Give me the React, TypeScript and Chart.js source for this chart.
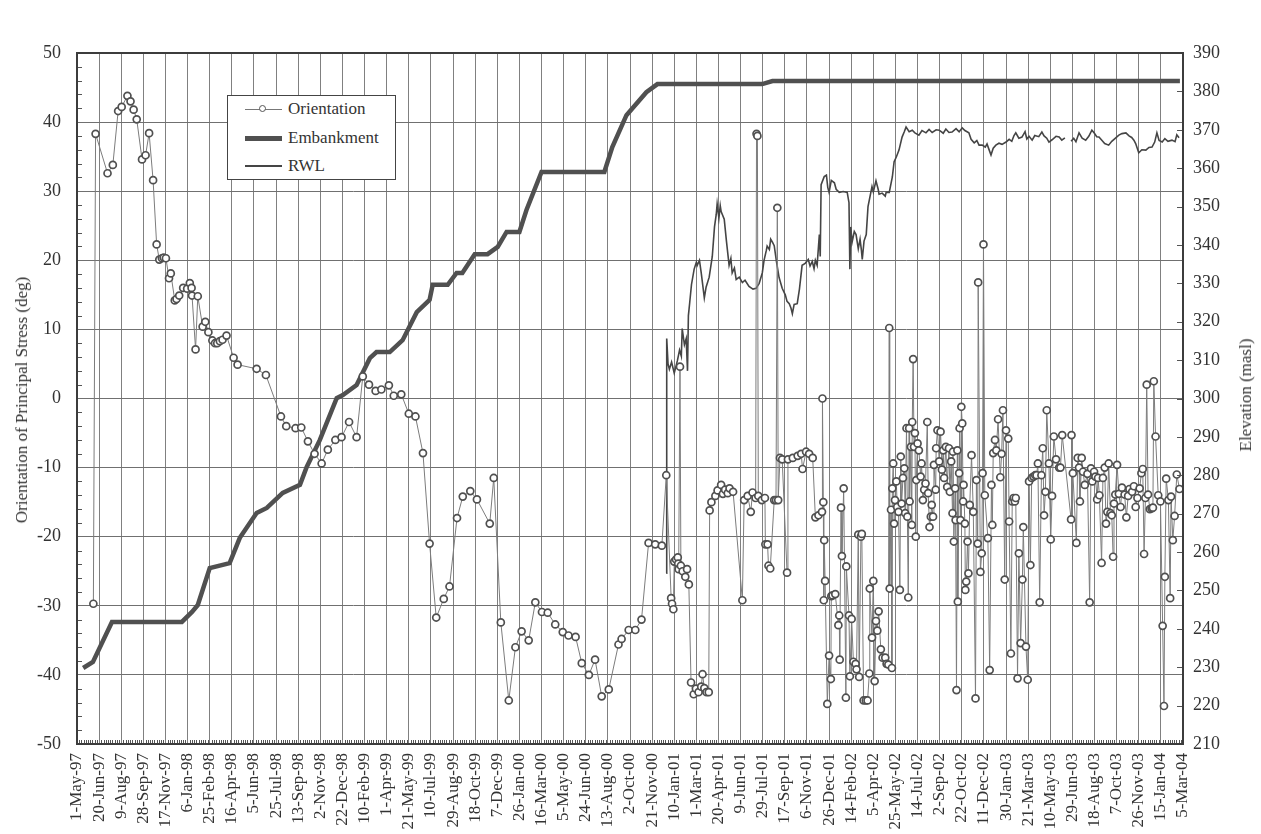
import React, { useEffect, useRef } from 'react';
import { Chart, registerables } from 'chart.js';

Chart.register(...registerables);

// ---------- data ----------
// x values are days counted from 1-May-97
const START_UTC = Date.UTC(1997, 4, 1);
const MONTHS = ['Jan', 'Feb', 'Mar', 'Apr', 'May', 'Jun', 'Jul', 'Aug', 'Sep', 'Oct', 'Nov', 'Dec'];
const X_TICK_STEP_DAYS = 50;
const X_MAX_DAYS = 2500;

const orientationDays = [
  37, 42, 69, 81, 93, 101, 114, 121, 128, 135, 147, 155, 163, 172, 180, 186, 192, 196, 201, 208,
  212, 221, 225, 231, 240, 249, 255, 259, 260, 268, 273, 284, 290, 297, 306, 312, 317, 323, 329, 338,
  354, 363, 406, 427, 461, 473, 494, 507, 522, 537, 553, 567, 584, 598, 615, 632, 646, 660, 675, 688,
  705, 716, 733, 750, 765, 782, 797, 812, 829, 842, 859, 872, 889, 904, 933, 942, 958, 976, 991, 1005,
  1021, 1036, 1051, 1064, 1081, 1098, 1111, 1127, 1141, 1157, 1171, 1186, 1202, 1224, 1231, 1247, 1262, 1276, 1292, 1307,
  1322, 1332, 1343, 1345, 1348, 1350, 1354, 1358, 1359, 1360, 1363, 1365, 1369, 1375, 1379, 1383, 1388, 1394, 1399, 1405,
  1411, 1414, 1418, 1423, 1428, 1430, 1434, 1443, 1448, 1456, 1460, 1465, 1471, 1475, 1483, 1504, 1508, 1516, 1523, 1527,
  1534, 1536, 1538, 1540, 1548, 1555, 1556, 1561, 1563, 1567, 1576, 1580, 1583, 1585, 1589, 1594, 1605, 1607, 1618, 1629,
  1637, 1640, 1648, 1655, 1663, 1669, 1676, 1684, 1685, 1687, 1688, 1689, 1691, 1696, 1700, 1704, 1705, 1708, 1714, 1721,
  1723, 1724, 1727, 1729, 1733, 1738, 1739, 1745, 1747, 1751, 1755, 1760, 1762, 1766, 1768, 1772, 1774, 1778, 1783, 1787,
  1791, 1792, 1797, 1800, 1803, 1806, 1809, 1812, 1817, 1821, 1827, 1830, 1834, 1836, 1837, 1840, 1842, 1843, 1845, 1847,
  1849, 1852, 1854, 1857, 1860, 1862, 1864, 1867, 1870, 1872, 1875, 1877, 1879, 1881, 1882, 1885, 1887, 1888, 1890, 1892,
  1894, 1896, 1897, 1900, 1903, 1907, 1909, 1912, 1915, 1918, 1922, 1924, 1927, 1930, 1932, 1935, 1937, 1941, 1942, 1945,
  1949, 1952, 1955, 1958, 1960, 1964, 1967, 1971, 1973, 1976, 1979, 1980, 1982, 1985, 1986, 1988, 1990, 1991, 1994, 1995,
  1997, 1999, 2001, 2003, 2004, 2007, 2008, 2010, 2013, 2015, 2018, 2022, 2026, 2031, 2033, 2036, 2037, 2042, 2045, 2047,
  2049, 2052, 2059, 2063, 2067, 2069, 2071, 2075, 2078, 2082, 2087, 2090, 2093, 2097, 2100, 2105, 2107, 2111, 2114, 2117,
  2120, 2122, 2126, 2129, 2133, 2137, 2139, 2145, 2149, 2152, 2155, 2158, 2162, 2166, 2169, 2172, 2176, 2180, 2183, 2186,
  2189, 2192, 2197, 2201, 2204, 2208, 2213, 2220, 2223, 2227, 2247, 2248, 2251, 2259, 2262, 2265, 2267, 2271, 2274, 2278,
  2284, 2289, 2292, 2295, 2299, 2302, 2306, 2308, 2311, 2316, 2319, 2323, 2326, 2329, 2332, 2336, 2339, 2342, 2344, 2347,
  2351, 2355, 2359, 2362, 2368, 2372, 2376, 2379, 2385, 2389, 2393, 2397, 2402, 2406, 2409, 2412, 2415, 2418, 2421, 2425,
  2429, 2432, 2434, 2438, 2444, 2449, 2454, 2457, 2459, 2462, 2467, 2471, 2473, 2477, 2481, 2486, 2492,
];

const orientationDeg = [
  -29.7, 38.3, 32.6, 33.8, 41.6, 42.2, 43.8, 43.0, 41.8, 40.4, 34.6, 35.2, 38.4, 31.6, 22.3, 20.1, 20.3, 20.4, 20.3, 17.4,
  18.1, 14.2, 14.4, 14.9, 16.0, 15.9, 16.7, 16.0, 14.9, 7.1, 14.8, 10.4, 11.1, 9.6, 8.4, 8.0, 8.0, 8.3, 8.5, 9.1,
  5.9, 4.9, 4.3, 3.4, -2.6, -4.0, -4.3, -4.2, -6.2, -8.0, -9.4, -7.4, -6.0, -5.6, -3.4, -5.6, 3.2, 2.0, 1.1, 1.3,
  1.9, 0.4, 0.6, -2.2, -2.6, -7.9, -21.0, -31.7, -29.0, -27.2, -17.3, -14.2, -13.4, -14.6, -18.1, -11.5, -32.4, -43.7, -36.0, -33.7,
  -35.0, -29.5, -30.9, -31.0, -32.7, -33.8, -34.3, -34.5, -38.3, -40.0, -37.8, -43.1, -42.1, -35.6, -34.8, -33.5, -33.5, -32.0, -20.9, -21.1,
  -21.3, -11.1, -28.9, -29.7, -30.5, -23.6, -23.3, -23.0, -23.9, -24.7, 4.6, -24.2, -25.0, -25.8, -24.7, -26.9, -41.1, -42.8, -42.0, -42.5,
  -41.7, -39.9, -41.9, -42.5, -42.5, -16.2, -15.0, -14.1, -13.3, -12.5, -13.8, -13.2, -13.7, -13.0, -13.5, -29.2, -14.7, -14.1, -16.4, -13.6,
  -14.4, 38.3, 38.0, -14.1, -14.7, -14.4, -21.1, -21.1, -24.2, -24.6, -14.7, -14.7, 27.6, -14.7, -8.6, -8.8, -25.2, -8.8, -8.6, -8.3,
  -8.0, -10.2, -7.7, -8.0, -8.6, -17.2, -16.9, -16.4, 0.0, -15.0, -29.2, -20.5, -26.4, -44.2, -37.2, -40.6, -28.6, -28.5, -28.3, -32.8,
  -31.4, -37.8, -15.8, -22.8, -13.0, -43.3, -24.3, -31.4, -40.2, -31.9, -38.1, -38.4, -39.2, -19.7, -40.3, -20.0, -19.6, -43.7, -43.7, -43.7,
  -39.8, -27.5, -34.6, -26.4, -40.9, -32.2, -33.6, -30.8, -36.3, -37.5, -37.5, -38.4, -38.5, 10.2, -27.5, -16.1, -39.0, -13.0, -9.4, -18.1,
  -14.7, -12.0, -15.7, -16.4, -27.7, -8.4, -15.2, -11.5, -10.1, -16.6, -4.3, -17.1, -28.8, -4.3, -14.9, -7.0, -18.3, -3.4, 5.7, -7.0,
  -5.0, -20.0, -11.8, -6.5, -7.5, -11.3, -9.4, -14.7, -13.2, -12.3, -3.4, -13.7, -18.6, -17.1, -15.4, -17.1, -9.6, -13.2, -7.2, -4.6,
  -9.1, -4.8, -10.3, -7.5, -11.5, -7.0, -12.8, -7.2, -13.5, -9.1, -16.6, -7.7, -20.7, -13.0, -17.6, -42.2, -7.5, -29.4, -10.8, -4.3,
  -17.6, -1.2, -3.6, -14.9, -12.5, -18.1, -27.7, -26.5, -20.7, -25.3, -15.4, -8.2, -16.4, -43.4, -11.8, -21.0, 16.8, -25.1, -22.4, -10.8,
  22.3, -14.0, -20.2, -39.3, -12.5, -18.3, -7.9, -6.0, -7.5, -3.0, -11.4, -8.0, -1.7, -26.2, -4.6, -5.8, -17.8, -36.9, -14.9, -14.4,
  -14.9, -14.4, -40.5, -22.4, -35.4, -26.2, -18.6, -35.9, -40.7, -12.0, -24.1, -11.5, -11.3, -11.1, -11.1, -9.4, -29.5, -11.1, -7.2, -16.9,
  -13.5, -1.7, -9.4, -20.4, -14.1, -5.5, -8.8, -10.0, -10.0, -5.3, -17.5, -5.3, -10.8, -20.9, -8.6, -10.0, -14.9, -8.6, -10.6, -12.5,
  -10.9, -29.5, -10.1, -12.0, -10.6, -11.3, -14.6, -11.5, -14.0, -23.8, -11.5, -10.0, -18.1, -16.4, -9.4, -16.6, -16.9, -22.9, -15.2, -13.9,
  -9.6, -13.8, -15.7, -12.9, -13.9, -17.2, -14.1, -13.1, -13.5, -12.7, -15.7, -14.4, -13.0, -10.8, -10.2, -22.5, -14.4, 2.0, -13.9, -16.0,
  -15.9, -15.8, 2.5, -5.5, -14.0, -14.9, -32.9, -44.5, -25.8, -11.6, -14.7, -28.9, -14.2, -20.5, -17.0, -11.0, -13.1,
];

const embankmentDays = [
  14, 36, 79, 237, 260, 273, 300, 345, 368, 406, 429, 465, 504, 519, 549, 587, 601, 632, 662, 677,
  707, 736, 768, 797, 804, 838, 858, 871, 899, 928, 951, 971, 1000, 1016, 1050, 1192, 1210, 1242, 1287, 1312,
  1549, 1572, 2493,
];
const embankmentElev = [
  229.8, 231.4, 241.8, 241.8, 244.4, 246.2, 255.8, 257.1, 263.7, 270.2, 271.5, 275.4, 277.5, 282.1, 289.2, 300.1, 300.9, 303.5, 310.5, 312.1,
  312.1, 315.2, 322.5, 325.7, 329.6, 329.6, 332.7, 332.7, 337.6, 337.6, 339.5, 343.4, 343.4, 349.1, 359.0, 359.0, 365.5, 373.8, 379.8, 381.9,
  381.9, 382.7, 382.7,
];

const rwlDays = [
  1332, 1333, 1336, 1339, 1344, 1350, 1357, 1362, 1366, 1368, 1373, 1377, 1380, 1382, 1385, 1389, 1395, 1400, 1402, 1407,
  1411, 1418, 1422, 1429, 1436, 1441, 1445, 1447, 1451, 1454, 1456, 1463, 1468, 1474, 1478, 1481, 1486, 1490, 1497, 1504,
  1510, 1519, 1528, 1535, 1542, 1549, 1553, 1558, 1560, 1565, 1568, 1572, 1576, 1581, 1587, 1594, 1601, 1605, 1610, 1614,
  1617, 1621, 1628, 1633, 1639, 1646, 1653, 1657, 1662, 1666, 1669, 1673, 1678, 1680, 1682, 1689, 1694, 1697, 1700, 1705,
  1712, 1716, 1723, 1732, 1741, 1745, 1747, 1749, 1752, 1757, 1761, 1766, 1770, 1773, 1775, 1779, 1784, 1788, 1797, 1800,
  1806, 1811, 1813, 1820, 1827, 1829, 1836, 1843, 1847, 1852, 1858, 1865, 1870, 1874, 1881, 1888, 1894, 1903, 1910, 1919,
  1926, 1933, 1942, 1949, 1958, 1964, 1971, 1978, 1987, 1994, 2001, 2007, 2016, 2021, 2028, 2034, 2039, 2046, 2053, 2057,
  2062, 2066, 2071, 2077, 2084, 2091, 2100, 2107, 2113, 2118, 2122, 2129, 2136, 2143, 2147, 2152, 2159, 2165, 2174, 2181,
  2186, 2192, 2197, 2204, 2213, 2220, 2226, 2233, 2240, 2247, 2253, 2258, 2265, 2272, 2280, 2287, 2294, 2299, 2305, 2310,
  2317, 2323, 2332, 2339, 2348, 2355, 2362, 2371, 2378, 2384, 2389, 2393, 2400, 2407, 2416, 2423, 2430, 2436, 2441, 2446,
  2453, 2459, 2466, 2475, 2482, 2486, 2491,
];
const rwlElev = [
  254.5, 315.6, 309.0, 307.6, 309.5, 306.6, 309.8, 312.6, 311.0, 318.2, 314.0, 315.6, 307.2, 321.6, 325.0, 329.7, 333.7, 335.5, 334.7, 336.0,
  332.7, 326.2, 329.0, 331.6, 337.0, 344.7, 348.0, 350.7, 347.0, 350.2, 348.7, 346.7, 341.0, 334.7, 336.5, 332.7, 334.0, 331.0, 331.6, 330.2,
  330.8, 329.2, 328.5, 328.7, 330.0, 332.7, 336.0, 338.5, 339.7, 338.8, 341.5, 340.7, 339.8, 335.7, 331.5, 328.7, 327.0, 325.3, 324.7, 323.5,
  322.1, 324.5, 324.7, 328.5, 334.7, 335.2, 336.2, 334.5, 335.7, 333.8, 336.0, 334.7, 342.7, 337.0, 355.7, 357.8, 358.2, 355.0, 353.7, 356.8,
  356.2, 354.5, 353.7, 353.9, 353.7, 351.0, 333.7, 344.7, 340.7, 343.5, 342.7, 339.0, 341.5, 338.7, 336.2, 341.0, 342.7, 350.0, 355.2, 353.8,
  356.7, 354.5, 353.2, 353.5, 352.7, 353.7, 353.7, 357.7, 361.7, 362.9, 364.7, 368.1, 369.5, 370.7, 369.5, 369.9, 369.2, 368.6, 369.8, 369.2,
  370.1, 369.3, 370.0, 369.9, 369.1, 370.2, 369.3, 369.4, 370.3, 369.5, 370.5, 369.8, 369.2, 367.5, 366.6, 367.2, 366.0, 366.0, 365.5, 366.3,
  364.7, 363.4, 365.2, 366.0, 366.5, 366.2, 366.8, 367.5, 367.0, 368.5, 369.2, 367.8, 368.1, 369.5, 367.6, 368.3, 367.3, 368.5, 368.2, 369.4,
  368.4, 367.8, 366.8, 367.4, 368.3, 368.1, 367.3, 367.9, null, 367.0, 367.8, 366.9, 369.2, 367.8, 367.3, 368.3, 369.9, 369.2, 368.2, 368.1,
  367.2, 366.4, 366.0, 367.0, 367.9, 368.6, 369.0, 369.2, 368.4, 368.0, 367.3, 366.4, 364.0, 364.8, 364.7, 365.4, 365.5, 366.8, 369.2, 367.2,
  366.8, 367.7, 367.0, 367.3, 366.9, 368.7, 367.9,
];

// ---------- helpers ----------
const SERIF = '"Liberation Serif", "Times New Roman", "DejaVu Serif", serif';

function formatDay(v: number): string {
  const d = new Date(START_UTC + v * 86400000);
  return `${d.getUTCDate()}-${MONTHS[d.getUTCMonth()]}-${String(d.getUTCFullYear()).slice(2)}`;
}

function pairs(xs: number[], ys: (number | null)[]) {
  return xs.map((x, i) => ({ x, y: ys[i] }));
}

const framePlugin = {
  id: 'frameAndMinorTicks',
  afterDatasetsDraw(chart: any) {
    const { ctx, chartArea: a, scales } = chart;
    ctx.save();
    ctx.strokeStyle = '#555';
    ctx.lineWidth = 1;
    ctx.beginPath();
    for (let d = 0; d <= X_MAX_DAYS; d += 5) {
      if (d % X_TICK_STEP_DAYS === 0) continue;
      const x = Math.round(scales.x.getPixelForValue(d)) + 0.5;
      ctx.moveTo(x, a.bottom);
      ctx.lineTo(x, a.bottom - 4);
    }
    for (let v = -50; v <= 50; v += 2) {
      if (v % 10 === 0) continue;
      const y = Math.round(scales.y.getPixelForValue(v)) + 0.5;
      ctx.moveTo(a.left, y);
      ctx.lineTo(a.left + 5, y);
    }
    for (let e = 210; e <= 390; e += 10) {
      const y = Math.round(scales.y2.getPixelForValue(e)) + 0.5;
      ctx.moveTo(a.right, y);
      ctx.lineTo(a.right - 6, y);
    }
    ctx.stroke();
    ctx.strokeStyle = '#3c3c3c';
    ctx.lineWidth = 2;
    ctx.strokeRect(a.left, a.top, a.right - a.left, a.bottom - a.top);
    ctx.restore();
  },
};

export default function App() {
  const canvasRef = useRef<HTMLCanvasElement | null>(null);

  useEffect(() => {
    const canvas = canvasRef.current;
    if (!canvas) return;
    const chart = new Chart(canvas, {
      type: 'line',
      data: {
        datasets: [
          {
            label: 'Orientation',
            data: pairs(orientationDays, orientationDeg),
            yAxisID: 'y',
            borderColor: '#7c7c7c',
            borderWidth: 1,
            pointRadius: 3.5,
            pointBorderWidth: 1.7,
            pointBorderColor: '#505050',
            pointBackgroundColor: '#ffffff',
            pointHoverRadius: 3.5,
            tension: 0,
          },
          {
            label: 'Embankment',
            data: pairs(embankmentDays, embankmentElev),
            yAxisID: 'y2',
            borderColor: '#505050',
            borderWidth: 4.5,
            pointRadius: 0,
            tension: 0,
          },
          {
            label: 'RWL',
            data: pairs(rwlDays, rwlElev),
            yAxisID: 'y2',
            borderColor: '#454545',
            borderWidth: 1.6,
            pointRadius: 0,
            spanGaps: false,
            tension: 0,
          },
        ],
      },
      options: {
        animation: false,
        responsive: false,
        maintainAspectRatio: false,
        devicePixelRatio: 1,
        layout: { padding: { top: 53, left: 0, right: 0, bottom: 0 } },
        plugins: { legend: { display: false }, tooltip: { enabled: false }, title: { display: false } },
        scales: {
          x: {
            type: 'linear',
            min: 0,
            max: X_MAX_DAYS,
            ticks: {
              stepSize: X_TICK_STEP_DAYS,
              autoSkip: false,
              maxRotation: 90,
              minRotation: 90,
              padding: 9,
              color: '#333',
              font: { family: SERIF, size: 17 },
              callback: (v: any) => formatDay(Number(v)),
            },
            grid: { color: '#808080', lineWidth: 1, drawTicks: false },
            border: { display: false },
            afterFit: (s: any) => { s.height = 90; },
          },
          y: {
            type: 'linear',
            position: 'left',
            min: -50,
            max: 50,
            ticks: { stepSize: 10, padding: 16, color: '#333', font: { family: SERIF, size: 18 } },
            grid: { color: '#707070', lineWidth: 1, drawTicks: false },
            border: { display: false },
            afterFit: (s: any) => { s.width = 77; },
          },
          y2: {
            type: 'linear',
            position: 'right',
            min: 210,
            max: 390,
            ticks: { stepSize: 10, padding: 10, color: '#333', font: { family: SERIF, size: 18 } },
            grid: { drawOnChartArea: false, drawTicks: false },
            border: { display: false },
            afterFit: (s: any) => { s.width = 78; },
          },
        },
      },
      plugins: [framePlugin],
    });
    return () => chart.destroy();
  }, []);

  const textStyle: React.CSSProperties = {
    position: 'absolute',
    fontFamily: SERIF,
    fontSize: 17,
    color: '#333',
    whiteSpace: 'nowrap',
    lineHeight: '20px',
  };

  return (
    <div style={{ position: 'absolute', left: 0, top: 0, width: 1261, height: 834, background: '#fff', overflow: 'hidden' }}>
      <canvas ref={canvasRef} width={1261} height={834} style={{ position: 'absolute', left: 0, top: 0, width: 1261, height: 834 }} />
      <div style={{ ...textStyle, left: 22, top: 400, transform: 'translate(-50%, -50%) rotate(-90deg)' }}>
        Orientation of Principal Stress (deg)
      </div>
      <div style={{ ...textStyle, left: 1246, top: 395, transform: 'translate(-50%, -50%) rotate(-90deg)' }}>
        Elevation (masl)
      </div>
      <div style={{ position: 'absolute', left: 227, top: 95, width: 167, height: 83, border: '1px solid #444', background: '#fff' }} />
      <div style={{ position: 'absolute', left: 245, top: 109, width: 37, height: 0, borderTop: '1px solid #777' }} />
      <div style={{ position: 'absolute', left: 259, top: 105, width: 5, height: 5, borderRadius: '50%', border: '1.5px solid #555', background: '#fff' }} />
      <div style={{ ...textStyle, left: 288, top: 99 }}>Orientation</div>
      <div style={{ position: 'absolute', left: 245, top: 136, width: 37, height: 5, background: '#505050' }} />
      <div style={{ ...textStyle, left: 288, top: 128 }}>Embankment</div>
      <div style={{ position: 'absolute', left: 245, top: 165, width: 37, height: 2, background: '#454545' }} />
      <div style={{ ...textStyle, left: 288, top: 156 }}>RWL</div>
    </div>
  );
}
